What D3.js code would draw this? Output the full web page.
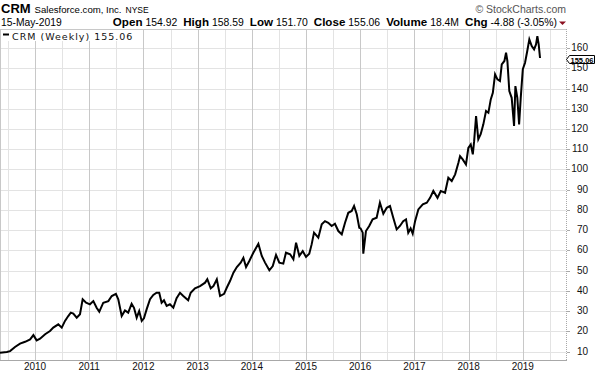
<!DOCTYPE html>
<html>
<head>
<meta charset="utf-8">
<script src="https://cdn.jsdelivr.net/npm/d3@7"></script>
<style>
  body { margin: 0; background: #fff; }
  svg { display: block; }
</style>
</head>
<body>
<div id="container"></div>
<script>
// weekly closes, dates as decimal years
var weeks = [2009.354,2009.478,2009.539,2009.631,2009.723,2009.815,2009.908,2009.969,
  2010.031,2010.092,2010.185,2010.277,2010.338,2010.430,2010.493,2010.554,2010.614,2010.659,2010.707,2010.769,2010.830,2010.880,2010.941,
  2011.015,2011.076,2011.138,2011.186,2011.260,2011.352,2011.415,2011.494,2011.537,2011.600,2011.661,2011.721,
  2011.784,2011.827,2011.876,2011.924,2011.969,
  2012.011,2012.061,2012.122,2012.183,2012.245,2012.293,2012.338,2012.380,2012.430,2012.491,2012.552,2012.614,2012.675,2012.736,2012.828,2012.873,2012.952,
  2013.044,2013.137,2013.179,2013.242,2013.290,2013.352,2013.413,2013.487,2013.537,2013.598,2013.659,2013.722,2013.795,2013.843,2013.893,2013.954,
  2014.028,2014.120,2014.183,2014.244,2014.323,2014.386,2014.446,2014.507,2014.581,2014.631,2014.705,2014.766,2014.815,2014.876,2014.939,
  2015.000,2015.061,2015.105,2015.148,2015.227,2015.290,2015.351,2015.411,2015.474,2015.535,2015.596,2015.659,2015.720,2015.780,2015.843,2015.886,2015.935,2015.983,
  2016.009,2016.046,2016.057,2016.107,2016.168,2016.231,2016.304,2016.365,2016.426,2016.489,2016.550,2016.611,2016.673,2016.734,2016.795,2016.845,2016.887,2016.932,2016.969,
  2017.011,2017.072,2017.153,2017.227,2017.288,2017.349,2017.423,2017.485,2017.565,2017.625,2017.688,2017.749,2017.810,2017.841,2017.889,2017.950,2017.994,
  2018.039,2018.076,2018.100,2018.137,2018.179,2018.223,2018.271,2018.321,2018.364,2018.408,2018.445,2018.487,2018.530,2018.579,2018.611,2018.659,2018.690,2018.714,2018.751,2018.795,2018.838,2018.862,2018.899,2018.930,2018.961,2018.998,
  2019.041,2019.083,2019.120,2019.164,2019.207,2019.244,2019.268,2019.293,2019.317];

var closes = [9.5,9.85,10.3,12.3,14.0,14.9,16.1,18.2,
  15.6,16.4,18.6,20.2,21.9,23.5,21.9,25.2,27.6,29.3,28.8,26.8,28.5,35.9,34.2,
  33.4,35.0,31.7,29.8,34.2,35.0,37.5,38.6,35.9,27.6,30.4,29.3,
  33.7,31.7,26.8,30.1,25.2,
  26.5,30.9,35.9,38.0,39.1,39.1,34.2,35.4,32.6,33.4,31.7,36.4,39.1,37.5,35.4,39.1,41.3,
  42.4,44.1,45.8,41.3,42.4,45.8,37.5,38.6,41.6,44.9,49.0,51.8,54.0,56.4,51.8,54.8,
  58.9,63.3,57.3,54.0,50.2,52.3,57.8,54.0,53.5,58.9,58.1,55.6,63.8,57.3,59.7,
  56.8,58.4,63.0,68.8,66.3,72.9,74.5,73.7,72.1,73.2,69.6,68.0,73.7,78.6,79.5,82.0,77.9,71.2,
  70.9,68.8,58.4,69.6,72.1,75.4,76.2,83.6,78.1,81.1,82.0,76.2,70.4,72.1,74.5,75.4,68.8,70.9,68.3,
  74.5,80.3,82.8,83.6,86.0,89.4,86.0,89.4,88.5,95.9,94.3,97.6,103.3,106.6,105.0,102.5,110.7,
  112.4,107.5,114.0,126.4,114.9,117.4,122.3,128.9,128.0,134.6,137.9,147.0,144.5,143.7,151.9,153.6,157.7,153.6,138.7,135.4,121.5,141.2,135.4,122.3,135.4,149.5,
  152.7,158.5,164.3,161.0,159.3,161.8,165.9,161.8,155.06];

var yearTicks = [2010, 2011, 2012, 2013, 2014, 2015, 2016, 2017, 2018, 2019];
var priceTicks = [10, 20, 30, 40, 50, 60, 70, 80, 90, 100, 110, 120, 130, 140, 150, 160];

var symbol = "CRM", company = "Salesforce.com, Inc.", exchange = "NYSE";
var quoteDate = "15-May-2019";
var quote = [["Open", "154.92"], ["High", "158.59"], ["Low", "151.70"], ["Close", "155.06"],
             ["Volume", "18.4M"], ["Chg", "-4.88 (-3.05%)"]];
var lastClose = "155.06";

function toDate(t) {
  var yr = Math.floor(t);
  return new Date(yr, 0, 1 + Math.round((t - yr) * 365.25));
}

var W = 604, H = 376;
var plot = {left: 0, right: 566, top: 30, bottom: 360};

var svg = d3.select("#container").append("svg")
  .attr("width", W).attr("height", H)
  .style("font-family", "'Liberation Sans', Arial, sans-serif");

var x = d3.scaleTime()
  .domain([toDate(2009.354), toDate(2019.797)])
  .range([plot.left, plot.right]);
var y = d3.scaleLinear()
  .domain([5.9, 168.9])
  .range([plot.bottom, plot.top]);

// grid
var grid = svg.append("g");
grid.selectAll(".hg").data(priceTicks).enter().append("line")
  .attr("x1", plot.left).attr("x2", plot.right)
  .attr("y1", function(d) { return Math.round(y(d)) + 0.5; })
  .attr("y2", function(d) { return Math.round(y(d)) + 0.5; })
  .attr("stroke", "#e3e3e3");
grid.selectAll(".mg").data(yearTicks.map(function(d) { return d - 0.5; }).concat([2019.5])).enter().append("line")
  .attr("x1", function(d) { return Math.round(x(toDate(d))) + 0.5; })
  .attr("x2", function(d) { return Math.round(x(toDate(d))) + 0.5; })
  .attr("y1", plot.top).attr("y2", plot.bottom)
  .attr("stroke", "#e3e3e3");
grid.selectAll(".vg").data(yearTicks).enter().append("line")
  .attr("x1", function(d) { return Math.round(x(new Date(d, 0, 1))) + 0.5; })
  .attr("x2", function(d) { return Math.round(x(new Date(d, 0, 1))) + 0.5; })
  .attr("y1", plot.top).attr("y2", plot.bottom)
  .attr("stroke", "#c8c8c8");

// frame
svg.append("line").attr("x1", 0).attr("x2", plot.right).attr("y1", plot.top - 0.5).attr("y2", plot.top - 0.5).attr("stroke", "#c8c8c8");
svg.append("line").attr("x1", 0.5).attr("x2", 0.5).attr("y1", plot.top).attr("y2", plot.bottom).attr("stroke", "#c8c8c8");
svg.append("line").attr("x1", 0).attr("x2", plot.right + 1).attr("y1", plot.bottom + 0.5).attr("y2", plot.bottom + 0.5).attr("stroke", "#a8a8a8");
svg.append("line").attr("x1", plot.right + 0.5).attr("x2", plot.right + 0.5).attr("y1", plot.top - 1).attr("y2", plot.bottom + 1)
  .attr("stroke", "#a8a8a8").attr("stroke-dasharray", "1,1");

// price line
var data = weeks.map(function(t, i) { return {date: toDate(t), close: closes[i]}; });
svg.append("path")
  .datum(data)
  .attr("fill", "none")
  .attr("stroke", "#000")
  .attr("stroke-width", 2)
  .attr("stroke-linejoin", "miter")
  .attr("d", d3.line()
    .x(function(d) { return x(d.date); })
    .y(function(d) { return y(d.close); }));

// bottom axis labels
svg.selectAll(".xl").data(yearTicks).enter().append("text")
  .attr("x", function(d) { return x(new Date(d, 0, 1)); })
  .attr("y", 370)
  .attr("text-anchor", "middle")
  .attr("font-size", "10px")
  .attr("fill", "#111")
  .text(function(d) { return d; });

// right axis ticks and labels
svg.selectAll(".yt").data(priceTicks).enter().append("line")
  .attr("x1", plot.right + 1).attr("x2", plot.right + 4)
  .attr("y1", function(d) { return Math.round(y(d)) + 0.5; })
  .attr("y2", function(d) { return Math.round(y(d)) + 0.5; })
  .attr("stroke", "#a8a8a8");
svg.selectAll(".yl").data(priceTicks).enter().append("text")
  .attr("x", 588)
  .attr("y", function(d) { return y(d) + 3; })
  .attr("text-anchor", "end")
  .attr("font-size", "10px")
  .attr("fill", "#111")
  .text(function(d) { return d; });

// last price marker
var ly = Math.round(y(+lastClose)) + 1.5;
svg.append("path")
  .attr("d", "M" + (plot.right + 0.5) + "," + ly + " L569.5," + (ly - 4) + " L594.5," + (ly - 4) +
             " L594.5," + (ly + 4) + " L569.5," + (ly + 4) + " Z")
  .attr("fill", "#fff").attr("stroke", "#000");
svg.append("text")
  .attr("x", 570.5).attr("y", ly + 3)
  .attr("font-size", "8px").attr("font-weight", "bold")
  .attr("textLength", 23).attr("lengthAdjust", "spacingAndGlyphs")
  .text(lastClose);

// legend
svg.append("rect").attr("x", 1).attr("y", plot.top).attr("width", 137).attr("height", 11).attr("fill", "#fff");
svg.append("line").attr("x1", 3).attr("x2", 9).attr("y1", 34.5).attr("y2", 34.5).attr("stroke", "#000").attr("stroke-width", 2);
svg.append("text")
  .attr("x", 12).attr("y", 39.5)
  .attr("font-family", "'DejaVu Sans', Verdana, sans-serif")
  .attr("font-size", "9.5px")
  .attr("letter-spacing", "1px")
  .attr("fill", "#111")
  .text(symbol + " (Weekly) " + lastClose);

// header
var h1 = svg.append("text").attr("x", 1).attr("y", 12.5);
h1.append("tspan").attr("font-size", "13px").attr("font-weight", "bold").text(symbol);
h1.append("tspan").attr("dx", 4).attr("font-size", "9.6px").text(company);
h1.append("tspan").attr("dx", 4).attr("font-size", "8.5px").text(exchange);

svg.append("text").attr("x", 1).attr("y", 26).attr("font-size", "10.3px").text(quoteDate);

var h2 = svg.append("text").attr("x", 557).attr("y", 26).attr("text-anchor", "end");
quote.forEach(function(q, i) {
  h2.append("tspan").attr("dx", i === 0 ? 0 : 6).attr("font-size", "11.6px").attr("font-weight", "bold").text(q[0]);
  h2.append("tspan").attr("dx", 3).attr("font-size", "10.4px").text(q[1]);
});
svg.append("path").attr("d", "M559,21.5 L566,21.5 L562.5,25 Z").attr("fill", "#8b1020");

svg.append("text").attr("x", 566).attr("y", 12.5).attr("text-anchor", "end")
  .attr("font-size", "10.5px").attr("fill", "#555")
  .text("\u00a9 StockCharts.com");
</script>
</body>
</html>
